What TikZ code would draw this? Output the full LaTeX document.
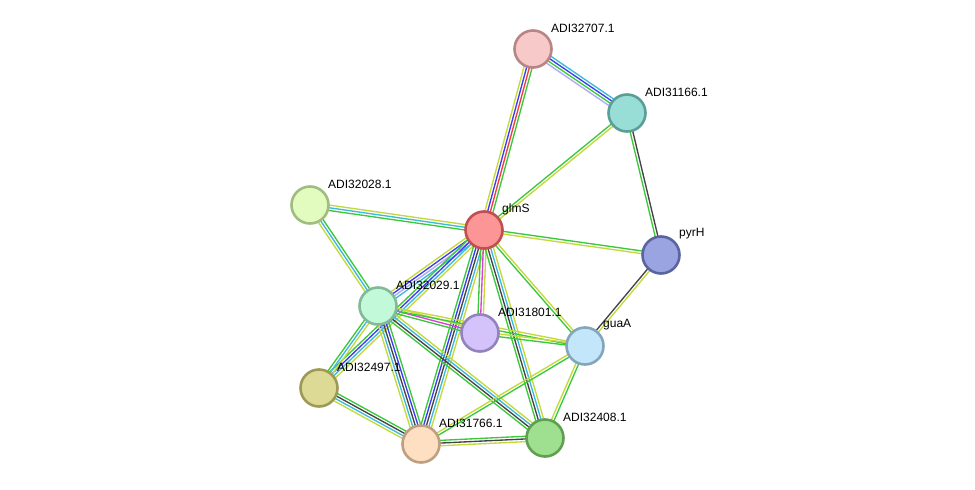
\documentclass[tikz,border=0pt]{standalone}
\usepackage{fontspec}
\setmainfont{Liberation Sans}
\usetikzlibrary{calc,backgrounds}
\definecolor{eGreen}{HTML}{3CC83C}
\definecolor{eRed}{HTML}{F03C3C}
\definecolor{eBlue}{HTML}{3C3CF0}
\definecolor{eCyan}{HTML}{3CBADC}
\definecolor{eMag}{HTML}{DC3CDC}
\definecolor{eYel}{HTML}{C4D93C}
\definecolor{eBlk}{HTML}{444444}
\definecolor{eLav}{HTML}{AAAAF5}
\tikzset{
  prot/.style={circle, minimum size=37pt, inner sep=0pt, line width=2.6pt},
  lbl/.style={anchor=west, inner sep=0pt, font=\fontsize{12}{14}\selectfont},
  edge/.style={line width=1.35pt},
}
\newcommand\mlink[4]{%
  \foreach \c [count=\i] in {#4} {%
    \pgfmathsetmacro\o{(\i-(#3+1)/2)*2.7}%
    \draw[edge,\c] ($(#1)!\o pt!90:(#2)$) -- ($(#2)!\o pt!-90:(#1)$);
  }%
}
\begin{document}
\begin{tikzpicture}[x=1pt,y=-1pt]
\useasboundingbox (0,0) rectangle (975,490);
\node[prot, fill={rgb,255:red,248;green,201;blue,201}, draw={rgb,255:red,184;green,133;blue,133}] (p707) at (533,49) {};
\node[prot, fill={rgb,255:red,153;green,222;blue,214}, draw={rgb,255:red,90;green,158;blue,150}] (p166) at (627,113) {};
\node[prot, fill={rgb,255:red,252;green,149;blue,149}, draw={rgb,255:red,192;green,80;blue,80}] (glmS) at (484,230) {};
\node[prot, fill={rgb,255:red,226;green,252;blue,192}, draw={rgb,255:red,160;green,189;blue,128}] (p028) at (310,205) {};
\node[prot, fill={rgb,255:red,154;green,164;blue,224}, draw={rgb,255:red,90;green,100;blue,160}] (pyrH) at (661,255) {};
\node[prot, fill={rgb,255:red,194;green,249;blue,216}, draw={rgb,255:red,130;green,185;blue,152}] (p029) at (378,306) {};
\node[prot, fill={rgb,255:red,212;green,194;blue,250}, draw={rgb,255:red,148;green,130;blue,186}] (p801) at (480,333) {};
\node[prot, fill={rgb,255:red,196;green,230;blue,250}, draw={rgb,255:red,132;green,166;blue,186}] (guaA) at (585,346) {};
\node[prot, fill={rgb,255:red,221;green,218;blue,150}, draw={rgb,255:red,157;green,154;blue,86}] (p497) at (319,388) {};
\node[prot, fill={rgb,255:red,254;green,223;blue,194}, draw={rgb,255:red,190;green,159;blue,130}] (p766) at (421,444) {};
\node[prot, fill={rgb,255:red,159;green,223;blue,144}, draw={rgb,255:red,95;green,159;blue,80}] (p408) at (545,438) {};

\node[lbl] (l707) at ($(p707)+(18,-21)$) {ADI32707.1};
\node[lbl] (l166) at ($(p166)+(18,-21)$) {ADI31166.1};
\node[lbl] (lglmS) at ($(glmS)+(18,-21)$) {glmS};
\node[lbl] (l028) at ($(p028)+(18,-21)$) {ADI32028.1};
\node[lbl] (lpyrH) at ($(pyrH)+(18,-21)$) {pyrH};
\node[lbl] (l029) at ($(p029)+(18,-21)$) {ADI32029.1};
\node[lbl] (l801) at ($(p801)+(18,-21)$) {ADI31801.1};
\node[lbl] (lguaA) at ($(guaA)+(18,-21)$) {guaA};
\node[lbl] (l497) at ($(p497)+(18,-21)$) {ADI32497.1};
\node[lbl] (l766) at ($(p766)+(18,-21)$) {ADI31766.1};
\node[lbl] (l408) at ($(p408)+(18,-21)$) {ADI32408.1};

\begin{pgfonlayer}{background}
\mlink{p707}{glmS}{4}{eYel,eBlue,eRed,eGreen}
\mlink{p707}{p166}{4}{eLav,eGreen,eBlue,eCyan}
\mlink{p166}{glmS}{2}{eGreen,eYel}
\mlink{p166}{pyrH}{2}{eGreen,eBlk}
\mlink{p028}{glmS}{3}{eGreen,eCyan,eYel}
\mlink{p028}{p029}{3}{eYel,eCyan,eGreen}
\mlink{glmS}{pyrH}{2}{eYel,eGreen}
\mlink{pyrH}{guaA}{2}{eBlk,eYel}
\mlink{glmS}{p029}{4}{eYel,eBlue,eLav,eCyan}
\mlink{glmS}{p497}{4}{eGreen,eBlue,eCyan,eYel}
\mlink{glmS}{p766}{5}{eGreen,eBlue,eBlk,eCyan,eYel}
\mlink{glmS}{p801}{3}{eGreen,eMag,eYel}
\mlink{glmS}{p408}{4}{eGreen,eBlk,eCyan,eYel}
\mlink{glmS}{guaA}{2}{eGreen,eYel}
\mlink{p029}{p801}{3}{eGreen,eMag,eYel}
\mlink{p029}{guaA}{2}{eGreen,eYel}
\mlink{p801}{guaA}{2}{eGreen,eYel}
\mlink{p029}{p408}{4}{eGreen,eBlk,eCyan,eYel}
\mlink{p029}{p766}{5}{eYel,eCyan,eBlk,eBlue,eGreen}
\mlink{p029}{p497}{3}{eGreen,eCyan,eYel}
\mlink{p497}{p766}{4}{eYel,eCyan,eBlk,eGreen}
\mlink{p766}{p408}{3}{eYel,eBlk,eGreen}
\mlink{p766}{guaA}{2}{eGreen,eYel}
\mlink{p408}{guaA}{2}{eGreen,eYel}
\end{pgfonlayer}
\end{tikzpicture}
\end{document}
